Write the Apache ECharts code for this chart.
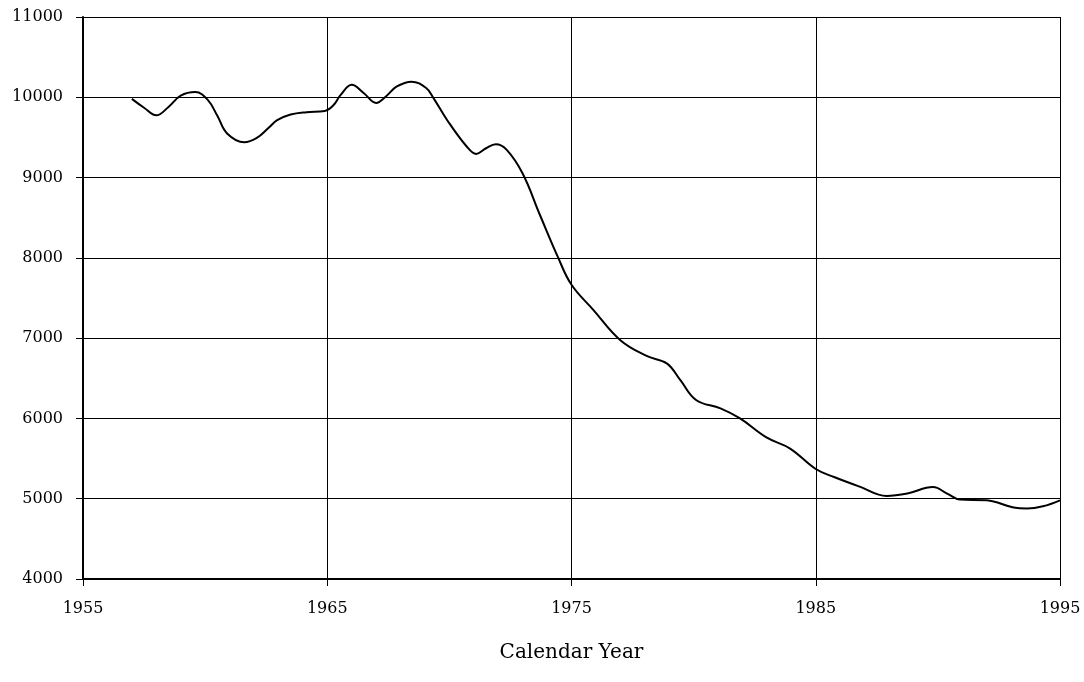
<!DOCTYPE html>
<html>
<head>
<meta charset="utf-8">
<script src="https://cdn.jsdelivr.net/npm/echarts@6/dist/echarts.min.js"></script>
<style>
  html, body { margin: 0; padding: 0; background: #fff; }
  #chart { width: 1084px; height: 682px; }
</style>
</head>
<body>
<div id="chart"></div>
<script>
// curve (year, value)
const years = [
  1957.0, 1957.5, 1958.0, 1958.5, 1959.0, 1959.6, 1960.1, 1960.5, 1960.9, 1961.6,
  1962.1, 1962.6, 1962.95, 1963.5, 1964.15, 1964.9, 1965.25, 1965.55, 1966.0, 1966.5,
  1967.0, 1967.4, 1967.85, 1968.45, 1969.05, 1969.35, 1969.9, 1970.7, 1971.1, 1971.5,
  1971.9, 1972.35, 1973.0, 1973.7, 1974.45, 1975.0, 1975.9, 1977.0, 1978.1, 1978.9,
  1979.45, 1980.1, 1981.1, 1981.9, 1983.0, 1983.95, 1985.0, 1985.75, 1986.8, 1987.9,
  1988.75, 1989.8, 1990.4, 1990.9, 1992.0, 1993.1, 1993.65, 1994.3, 1995.0
]
const values = [
  9980, 9870, 9775, 9880, 10020, 10065, 9970, 9770, 9550, 9440,
  9490, 9620, 9715, 9785, 9815, 9830, 9900, 10030, 10155, 10050,
  9930, 10010, 10135, 10195, 10115, 9990, 9720, 9390, 9295, 9365,
  9415, 9345, 9050, 8540, 8005, 7665, 7350, 6975, 6775, 6685,
  6480, 6230, 6125, 6000, 5760, 5625, 5370, 5270, 5150, 5035,
  5065, 5145, 5060, 4990, 4980, 4890, 4877, 4905, 4980
]
const xTicks = { min: 1955, max: 1995, step: 10 }
const yTicks = { min: 4000, max: 11000, step: 1000 }
const xTitle = 'Calendar Year'

const chart = echarts.init(document.getElementById('chart'))
const font = 'DejaVu Serif'

chart.setOption({
  animation: false,
  grid: { left: 83, right: 24, top: 17, bottom: 103 },
  xAxis: {
    type: 'value',
    min: xTicks.min,
    max: xTicks.max,
    interval: xTicks.step,
    name: xTitle,
    nameLocation: 'middle',
    nameGap: 64,
    nameTextStyle: { fontFamily: font, fontSize: 20, color: '#000' },
    axisLine: { show: true, onZero: false, lineStyle: { color: '#000', width: 2 } },
    axisTick: { show: true, length: 7, lineStyle: { color: '#000' } },
    axisLabel: { fontFamily: font, fontSize: 16, color: '#000', margin: 22, formatter: v => String(v) },
    splitLine: { show: true, lineStyle: { color: '#000', width: 1 } }
  },
  yAxis: {
    type: 'value',
    min: yTicks.min,
    max: yTicks.max,
    interval: yTicks.step,
    axisLine: { show: true, lineStyle: { color: '#000', width: 2 } },
    axisTick: { show: true, length: 7, lineStyle: { color: '#000' } },
    axisLabel: { fontFamily: font, fontSize: 16, color: '#000', margin: 20, formatter: v => String(v) },
    splitLine: { show: true, lineStyle: { color: '#000', width: 1 } }
  },
  series: [
    {
      type: 'line',
      data: years.map((y, i) => [y, values[i]]),
      smooth: 0.4,
      showSymbol: false,
      lineStyle: { color: '#000', width: 2 }
    }
  ]
})
</script>
</body>
</html>
